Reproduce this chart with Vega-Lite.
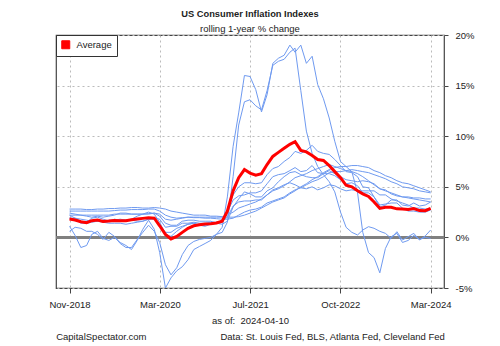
{
  "$schema": "https://vega.github.io/schema/vega-lite/v6.json",
  "autosize": "none",
  "width": 388,
  "height": 253,
  "padding": {"left": 56, "top": 35, "right": 56, "bottom": 58},
  "config": {
    "font": "Liberation Sans",
    "view": {"stroke": "#444444", "strokeWidth": 1.2},
    "axis": {"labelFont": "Liberation Sans", "labelFontSize": 9.5, "labelColor": "#222222", "titleFont": "Liberation Sans", "titleFontSize": 9.5, "titleFontWeight": "normal", "titleColor": "#222222", "tickColor": "#444444", "domain": false, "gridColor": "#bbbbbb", "gridDash": [2, 3], "gridWidth": 1}
  },
  "title": {
    "text": "US Consumer Inflation Indexes",
    "subtitle": "rolling 1-year % change",
    "fontSize": 9.3,
    "fontWeight": "bold",
    "subtitleFontSize": 9.5,
    "color": "#222222",
    "subtitleColor": "#222222",
    "anchor": "middle",
    "offset": -3,
    "subtitlePadding": 4
  },
  "data": {"values": [
    {"d":"2018-11-01","avg":1.82,"med":2.8,"stk":2.6,"trm":2.4,"core":2.2,"cpi":2.2,"pce":1.9,"cpce":1.9,"flx":1.1,"fcor":0.6},
    {"d":"2018-12-01","avg":1.72,"med":2.8,"stk":2.6,"trm":2.3,"core":2.2,"cpi":1.9,"pce":1.8,"cpce":1.9,"flx":0.2,"fcor":1.0},
    {"d":"2019-01-01","avg":1.55,"med":2.8,"stk":2.6,"trm":2.2,"core":2.2,"cpi":1.6,"pce":1.4,"cpce":1.8,"flx":-1.0,"fcor":0.9},
    {"d":"2019-02-01","avg":1.45,"med":2.75,"stk":2.6,"trm":2.2,"core":2.1,"cpi":1.5,"pce":1.4,"cpce":1.7,"flx":-0.8,"fcor":0.6},
    {"d":"2019-03-01","avg":1.65,"med":2.75,"stk":2.6,"trm":2.2,"core":2.0,"cpi":1.9,"pce":1.5,"cpce":1.6,"flx":0.3,"fcor":0.6},
    {"d":"2019-04-01","avg":1.72,"med":2.8,"stk":2.6,"trm":2.2,"core":2.1,"cpi":2.0,"pce":1.6,"cpce":1.6,"flx":0.6,"fcor":0.3},
    {"d":"2019-05-01","avg":1.58,"med":2.8,"stk":2.6,"trm":2.2,"core":2.0,"cpi":1.8,"pce":1.5,"cpce":1.6,"flx":-0.1,"fcor":-0.2},
    {"d":"2019-06-01","avg":1.62,"med":2.85,"stk":2.6,"trm":2.2,"core":2.1,"cpi":1.6,"pce":1.4,"cpce":1.7,"flx":-0.3,"fcor":0.5},
    {"d":"2019-07-01","avg":1.68,"med":2.85,"stk":2.65,"trm":2.3,"core":2.2,"cpi":1.8,"pce":1.4,"cpce":1.7,"flx":0.0,"fcor":0.1},
    {"d":"2019-08-01","avg":1.65,"med":2.9,"stk":2.7,"trm":2.3,"core":2.4,"cpi":1.7,"pce":1.4,"cpce":1.8,"flx":-0.5,"fcor":-0.6},
    {"d":"2019-09-01","avg":1.65,"med":2.9,"stk":2.7,"trm":2.3,"core":2.4,"cpi":1.7,"pce":1.3,"cpce":1.7,"flx":-0.8,"fcor":-1.0},
    {"d":"2019-10-01","avg":1.75,"med":2.95,"stk":2.75,"trm":2.3,"core":2.3,"cpi":1.8,"pce":1.4,"cpce":1.7,"flx":-1.2,"fcor":-1.0},
    {"d":"2019-11-01","avg":1.82,"med":2.95,"stk":2.75,"trm":2.3,"core":2.3,"cpi":2.1,"pce":1.5,"cpce":1.6,"flx":-0.3,"fcor":-0.2},
    {"d":"2019-12-01","avg":1.88,"med":2.9,"stk":2.75,"trm":2.3,"core":2.3,"cpi":2.3,"pce":1.6,"cpce":1.6,"flx":0.8,"fcor":0.5},
    {"d":"2020-01-01","avg":1.95,"med":2.9,"stk":2.8,"trm":2.35,"core":2.3,"cpi":2.5,"pce":1.8,"cpce":1.8,"flx":1.7,"fcor":1.2},
    {"d":"2020-02-01","avg":1.9,"med":2.95,"stk":2.8,"trm":2.4,"core":2.4,"cpi":2.3,"pce":1.8,"cpce":1.9,"flx":0.8,"fcor":0.6},
    {"d":"2020-03-01","avg":1.15,"med":2.9,"stk":2.6,"trm":2.3,"core":2.1,"cpi":1.5,"pce":1.3,"cpce":1.8,"flx":-1.5,"fcor":-0.5},
    {"d":"2020-04-01","avg":0.3,"med":2.8,"stk":2.2,"trm":1.8,"core":1.4,"cpi":0.3,"pce":0.5,"cpce":1.0,"flx":-5.0,"fcor":-2.7},
    {"d":"2020-05-01","avg":-0.15,"med":2.6,"stk":2.0,"trm":1.7,"core":1.2,"cpi":0.1,"pce":0.5,"cpce":1.1,"flx":-4.0,"fcor":-3.7},
    {"d":"2020-06-01","avg":0.1,"med":2.5,"stk":1.9,"trm":1.8,"core":1.2,"cpi":0.6,"pce":0.9,"cpce":1.1,"flx":-3.3,"fcor":-3.0},
    {"d":"2020-07-01","avg":0.5,"med":2.4,"stk":1.95,"trm":1.9,"core":1.6,"cpi":1.0,"pce":1.1,"cpce":1.4,"flx":-2.9,"fcor":-1.7},
    {"d":"2020-08-01","avg":0.9,"med":2.3,"stk":2.0,"trm":2.0,"core":1.7,"cpi":1.3,"pce":1.3,"cpce":1.4,"flx":-2.2,"fcor":-0.8},
    {"d":"2020-09-01","avg":1.15,"med":2.2,"stk":1.95,"trm":2.0,"core":1.7,"cpi":1.4,"pce":1.4,"cpce":1.5,"flx":-1.2,"fcor":-0.4},
    {"d":"2020-10-01","avg":1.25,"med":2.2,"stk":1.95,"trm":2.0,"core":1.6,"cpi":1.2,"pce":1.2,"cpce":1.4,"flx":-0.9,"fcor":-0.2},
    {"d":"2020-11-01","avg":1.32,"med":2.2,"stk":1.9,"trm":2.0,"core":1.6,"cpi":1.2,"pce":1.1,"cpce":1.4,"flx":-0.6,"fcor":-0.1},
    {"d":"2020-12-01","avg":1.36,"med":2.1,"stk":1.9,"trm":2.0,"core":1.6,"cpi":1.4,"pce":1.3,"cpce":1.5,"flx":-0.3,"fcor":0.0},
    {"d":"2021-01-01","avg":1.42,"med":2.1,"stk":1.85,"trm":2.0,"core":1.4,"cpi":1.4,"pce":1.4,"cpce":1.5,"flx":0.3,"fcor":0.3},
    {"d":"2021-02-01","avg":1.6,"med":2.05,"stk":1.8,"trm":2.0,"core":1.3,"cpi":1.7,"pce":1.6,"cpce":1.6,"flx":1.0,"fcor":0.5},
    {"d":"2021-03-01","avg":2.6,"med":2.0,"stk":1.8,"trm":2.2,"core":1.6,"cpi":2.6,"pce":2.5,"cpce":2.0,"flx":4.0,"fcor":1.5},
    {"d":"2021-04-01","avg":4.6,"med":2.0,"stk":1.9,"trm":2.5,"core":3.0,"cpi":4.2,"pce":3.7,"cpce":3.1,"flx":9.0,"fcor":6.0},
    {"d":"2021-05-01","avg":5.9,"med":2.05,"stk":2.2,"trm":2.9,"core":3.8,"cpi":5.0,"pce":4.1,"cpce":3.5,"flx":12.3,"fcor":11.1},
    {"d":"2021-06-01","avg":6.7,"med":2.2,"stk":2.5,"trm":3.1,"core":4.5,"cpi":5.4,"pce":4.2,"cpce":3.6,"flx":16.0,"fcor":13.4},
    {"d":"2021-07-01","avg":6.35,"med":2.4,"stk":2.7,"trm":3.3,"core":4.3,"cpi":5.4,"pce":4.4,"cpce":3.6,"flx":15.9,"fcor":13.6},
    {"d":"2021-08-01","avg":6.15,"med":2.6,"stk":2.8,"trm":3.5,"core":4.0,"cpi":5.3,"pce":4.4,"cpce":3.7,"flx":14.6,"fcor":13.0},
    {"d":"2021-09-01","avg":6.3,"med":2.9,"stk":3.0,"trm":3.8,"core":4.0,"cpi":5.4,"pce":4.6,"cpce":3.7,"flx":12.4,"fcor":12.6},
    {"d":"2021-10-01","avg":7.2,"med":3.2,"stk":3.4,"trm":4.2,"core":4.6,"cpi":6.2,"pce":5.3,"cpce":4.2,"flx":14.1,"fcor":14.5},
    {"d":"2021-11-01","avg":8.0,"med":3.5,"stk":3.6,"trm":4.6,"core":4.9,"cpi":6.8,"pce":6.0,"cpce":4.7,"flx":17.2,"fcor":17.0},
    {"d":"2021-12-01","avg":8.4,"med":3.7,"stk":3.8,"trm":4.8,"core":5.5,"cpi":7.0,"pce":6.2,"cpce":4.9,"flx":17.7,"fcor":17.4},
    {"d":"2022-01-01","avg":8.8,"med":3.9,"stk":4.0,"trm":5.1,"core":6.0,"cpi":7.5,"pce":6.3,"cpce":5.2,"flx":18.0,"fcor":17.6},
    {"d":"2022-02-01","avg":9.2,"med":4.3,"stk":4.4,"trm":5.5,"core":6.4,"cpi":7.9,"pce":6.6,"cpce":5.4,"flx":19.0,"fcor":18.3},
    {"d":"2022-03-01","avg":9.45,"med":4.6,"stk":4.7,"trm":5.9,"core":6.5,"cpi":8.5,"pce":6.9,"cpce":5.2,"flx":18.3,"fcor":18.7},
    {"d":"2022-04-01","avg":8.6,"med":5.0,"stk":4.9,"trm":6.1,"core":6.2,"cpi":8.3,"pce":6.5,"cpce":4.9,"flx":19.0,"fcor":14.5},
    {"d":"2022-05-01","avg":8.45,"med":5.3,"stk":5.2,"trm":6.3,"core":6.0,"cpi":8.6,"pce":6.6,"cpce":4.8,"flx":17.2,"fcor":10.5},
    {"d":"2022-06-01","avg":8.1,"med":5.7,"stk":5.5,"trm":6.6,"core":5.9,"cpi":9.1,"pce":7.1,"cpce":5.0,"flx":17.9,"fcor":8.3},
    {"d":"2022-07-01","avg":7.7,"med":6.0,"stk":5.7,"trm":6.8,"core":5.9,"cpi":8.5,"pce":6.4,"cpce":4.7,"flx":15.1,"fcor":7.0},
    {"d":"2022-08-01","avg":7.6,"med":6.4,"stk":6.0,"trm":7.0,"core":6.3,"cpi":8.3,"pce":6.3,"cpce":4.9,"flx":13.7,"fcor":6.2},
    {"d":"2022-09-01","avg":7.1,"med":6.7,"stk":6.4,"trm":7.2,"core":6.6,"cpi":8.2,"pce":6.3,"cpce":5.2,"flx":11.8,"fcor":5.5},
    {"d":"2022-10-01","avg":6.5,"med":6.9,"stk":6.5,"trm":7.0,"core":6.3,"cpi":7.7,"pce":6.1,"cpce":5.1,"flx":9.5,"fcor":4.5},
    {"d":"2022-11-01","avg":5.9,"med":7.0,"stk":6.5,"trm":6.8,"core":6.0,"cpi":7.1,"pce":5.7,"cpce":4.8,"flx":7.5,"fcor":2.5},
    {"d":"2022-12-01","avg":5.15,"med":7.0,"stk":6.6,"trm":6.6,"core":5.7,"cpi":6.5,"pce":5.3,"cpce":4.6,"flx":7.0,"fcor":1.0},
    {"d":"2023-01-01","avg":5.0,"med":7.1,"stk":6.7,"trm":6.5,"core":5.6,"cpi":6.4,"pce":5.4,"cpce":4.7,"flx":6.5,"fcor":0.5},
    {"d":"2023-02-01","avg":4.6,"med":7.1,"stk":6.6,"trm":6.3,"core":5.5,"cpi":6.0,"pce":5.1,"cpce":4.6,"flx":4.4,"fcor":0.24},
    {"d":"2023-03-01","avg":4.3,"med":7.0,"stk":6.5,"trm":6.0,"core":5.6,"cpi":5.0,"pce":4.4,"cpce":4.6,"flx":0.5,"fcor":0.73},
    {"d":"2023-04-01","avg":4.05,"med":6.9,"stk":6.4,"trm":5.6,"core":5.5,"cpi":4.9,"pce":4.4,"cpce":4.6,"flx":-1.5,"fcor":1.06},
    {"d":"2023-05-01","avg":3.5,"med":6.6,"stk":6.2,"trm":5.2,"core":5.3,"cpi":4.0,"pce":4.0,"cpce":4.6,"flx":-2.0,"fcor":0.9},
    {"d":"2023-06-01","avg":2.87,"med":6.4,"stk":6.0,"trm":4.8,"core":4.8,"cpi":3.0,"pce":3.2,"cpce":4.2,"flx":-3.5,"fcor":0.6},
    {"d":"2023-07-01","avg":2.97,"med":6.1,"stk":5.8,"trm":4.6,"core":4.7,"cpi":3.2,"pce":3.3,"cpce":4.2,"flx":-1.1,"fcor":0.4},
    {"d":"2023-08-01","avg":2.97,"med":5.9,"stk":5.5,"trm":4.4,"core":4.3,"cpi":3.7,"pce":3.4,"cpce":3.8,"flx":0.07,"fcor":-0.1},
    {"d":"2023-09-01","avg":2.82,"med":5.6,"stk":5.3,"trm":4.2,"core":4.1,"cpi":3.7,"pce":3.4,"cpce":3.6,"flx":0.4,"fcor":0.56},
    {"d":"2023-10-01","avg":2.8,"med":5.4,"stk":5.0,"trm":4.0,"core":4.0,"cpi":3.2,"pce":2.9,"cpce":3.4,"flx":-0.5,"fcor":-0.26},
    {"d":"2023-11-01","avg":2.75,"med":5.3,"stk":4.9,"trm":3.9,"core":4.0,"cpi":3.1,"pce":2.6,"cpce":3.2,"flx":-0.3,"fcor":0.07},
    {"d":"2023-12-01","avg":2.85,"med":5.1,"stk":4.8,"trm":3.8,"core":3.9,"cpi":3.4,"pce":2.6,"cpce":2.9,"flx":0.2,"fcor":0.4},
    {"d":"2024-01-01","avg":2.65,"med":4.9,"stk":4.6,"trm":3.7,"core":3.9,"cpi":3.1,"pce":2.5,"cpce":2.9,"flx":-0.2,"fcor":-0.26},
    {"d":"2024-02-01","avg":2.64,"med":4.7,"stk":4.5,"trm":3.6,"core":3.8,"cpi":3.2,"pce":2.5,"cpce":2.8,"flx":0.0,"fcor":0.15},
    {"d":"2024-03-01","avg":2.86,"med":4.5,"stk":4.4,"trm":3.5,"core":3.8,"cpi":3.5,"pce":2.7,"cpce":2.8,"flx":-0.1,"fcor":0.73}
  ]},
  "encoding": {
    "x": {
      "field": "d",
      "type": "temporal",
      "scale": {"domain": [{"year": 2018, "month": 8, "date": 20}, {"year": 2024, "month": 5, "date": 12}]},
      "axis": {
        "values": [{"year": 2018, "month": 11, "date": 1}, {"year": 2020, "month": 3, "date": 2}, {"year": 2021, "month": 7, "date": 2}, {"year": 2022, "month": 10, "date": 31}, {"year": 2024, "month": 3, "date": 1}],
        "format": "%b-%Y",
        "title": ["as of:\u00a0\u00a02024-04-10", "CapitalSpectator.com\u00a0\u00a0\u00a0\u00a0\u00a0\u00a0\u00a0\u00a0\u00a0\u00a0\u00a0\u00a0\u00a0\u00a0\u00a0\u00a0\u00a0\u00a0\u00a0\u00a0\u00a0\u00a0\u00a0\u00a0\u00a0\u00a0\u00a0\u00a0Data: St. Louis Fed, BLS, Atlanta Fed, Cleveland Fed"],
        "titleLineHeight": 16,
        "tickSize": 5,
        "labelPadding": 6,
        "titlePadding": 7,
        "grid": true,
        "labelFlush": false,
        "labelOverlap": false
      }
    },
    "y": {
      "type": "quantitative",
      "scale": {"domain": [-5, 20], "nice": false, "zero": false},
      "axis": {
        "orient": "right",
        "values": [-5, 0, 5, 10, 15, 20],
        "labelExpr": "datum.value + '%'",
        "tickSize": 4,
        "labelPadding": 7,
        "title": null,
        "grid": true
      }
    }
  },
  "layer": [
    {
      "mark": {"type": "rule", "color": "#808080", "strokeWidth": 1.6},
      "encoding": {"y": {"datum": 0}, "x": null}
    },
    {
      "transform": [{"fold": ["med", "stk", "trm", "core", "cpi", "pce", "cpce", "flx", "fcor"], "as": ["series", "value"]}],
      "mark": {"type": "line", "color": "#6f9af0", "strokeWidth": 1, "interpolate": "linear"},
      "encoding": {
        "y": {"field": "value", "type": "quantitative"},
        "detail": {"field": "series", "type": "nominal"}
      }
    },
    {
      "mark": {"type": "line", "strokeWidth": 3},
      "encoding": {
        "y": {"field": "avg", "type": "quantitative"},
        "color": {
          "datum": "Average",
          "type": "nominal",
          "scale": {"domain": ["Average"], "range": ["#ff0000"]},
          "legend": {
            "title": null,
            "orient": "top-left",
            "offset": 0,
            "padding": 5,
            "strokeColor": "#333333",
            "fillColor": "#ffffff",
            "labelFontSize": 9.5,
            "labelColor": "#222222",
            "labelFont": "Liberation Sans",
            "labelOffset": 6,
            "symbolSize": 64,
            "symbolType": "square",
            "encode": {"symbols": {"update": {"fill": {"value": "#ff0000"}, "stroke": {"value": "#000000"}, "strokeWidth": {"value": 1}, "shape": {"value": "square"}, "opacity": {"value": 1}}}}
          }
        }
      }
    }
  ]
}
